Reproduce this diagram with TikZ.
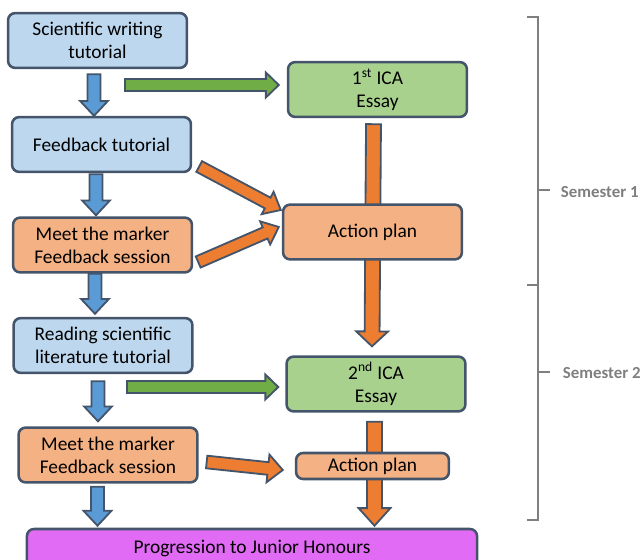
\documentclass[tikz,border=0pt]{standalone}
\usepackage{fontspec}
\setmainfont{Carlito}
\usetikzlibrary{calc}
\pgfdeclarelayer{background}
\pgfsetlayers{background,main}

\definecolor{edge}{HTML}{44546A}
\definecolor{bluebox}{HTML}{BDD7EE}
\definecolor{orangebox}{HTML}{F4B183}
\definecolor{greenbox}{HTML}{A9D18E}
\definecolor{pinkbox}{HTML}{E26BF6}
\definecolor{bluearr}{HTML}{5B9BD5}
\definecolor{greenarr}{HTML}{70AD47}
\definecolor{orangearr}{HTML}{ED7D31}
\definecolor{semgray}{HTML}{7F7F7F}

\tikzset{
  box/.style={draw=edge, line width=1.8pt, rounded corners=5pt, align=center,
    minimum width=4.47cm, minimum height=1.37cm, inner sep=2pt, font=\fontsize{13.8}{16.4}\selectfont},
  semlabel/.style={anchor=west, text=semgray, font=\fontsize{12}{14}\selectfont\bfseries}
}

% block arrow: fill, shaft half width, head half width, head length, from, to
\newcommand{\blockarrow}[6]{%
  \coordinate (ba-s) at (#5);
  \coordinate (ba-e) at (#6);
  \coordinate (ba-n) at ($(ba-e)!#4!(ba-s)$);
  \filldraw[fill=#1, draw=edge, line width=1.3pt, line join=miter]
    ($(ba-s)!#2!90:(ba-e)$) -- ($(ba-n)!#2!90:(ba-e)$) -- ($(ba-n)!#3!90:(ba-e)$)
    -- (ba-e) -- ($(ba-n)!#3!-90:(ba-e)$) -- ($(ba-n)!#2!-90:(ba-e)$)
    -- ($(ba-s)!#2!-90:(ba-e)$) -- cycle;
}

\begin{document}
\begin{tikzpicture}[x=0.025cm, y=-0.025cm]
\useasboundingbox (0,0) rectangle (640,560);
%\draw [help lines, step=20] (0,0) grid (640,560);
\node [box, fill=bluebox] (sci) at (97.5,40.5) {Scientific writing\\tutorial};
\node [box, fill=bluebox] (fb) at (101.5,144.5) {Feedback tutorial};
\node [box, fill=orangebox] (mm1) at (102.5,245) {Meet the marker\\Feedback session};
\node [box, fill=bluebox] (read) at (103,345.5) {Reading scientific\\literature tutorial};
\node [box, fill=orangebox] (mm2) at (108,455) {Meet the marker\\Feedback session};
\node [box, fill=pinkbox, minimum width=11.25cm, minimum height=0.95cm] (prog) at (252,548) {Progression to Junior Honours};
\node [box, fill=greenbox] (ica1) at (377.5,89.5) {1\textsuperscript{st} ICA\\Essay};
\node [box, fill=orangebox] (ap1) at (372.5,232) {Action plan};
\node [box, fill=greenbox] (ica2) at (376,384) {2\textsuperscript{nd} ICA\\Essay};
\node [box, fill=orangebox, minimum width=3.82cm, minimum height=0.65cm, inner sep=1pt] (ap2) at (372.5,466) {Action plan};
\coordinate (g1) at (125,85);
\coordinate (g2) at (127,387);

\begin{pgfonlayer}{background}
\blockarrow{bluearr}{4.6pt}{9.9pt}{10.6pt}{$(sci.south)+(-3.5,5)$}{$(sci.south |- fb.north)+(-3.5,0)$}
\blockarrow{bluearr}{4.6pt}{9.9pt}{10.6pt}{$(fb.south)+(-5.5,1)$}{$(fb.south |- mm1.north)+(-5.5,-1)$}
\blockarrow{bluearr}{4.6pt}{9.9pt}{10.6pt}{$(mm1.south)+(-7.5,0)$}{$(mm1.south |- read.north)+(-7.5,-3)$}
\blockarrow{bluearr}{4.6pt}{9.9pt}{10.6pt}{$(read.south)+(-5,7)$}{$(read.south |- mm2.north)+(-5,-5)$}
\blockarrow{bluearr}{4.6pt}{9.9pt}{10.6pt}{$(mm2.south)+(-10.5,3)$}{$(mm2.south |- prog.north)+(-10.5,-2)$}
\blockarrow{greenarr}{4.3pt}{8.9pt}{9.2pt}{g1}{$(ica1.west |- g1)+(-8,0)$}
\blockarrow{greenarr}{4.3pt}{8.9pt}{9.2pt}{g2}{$(ica2.west |- g2)+(-7,0)$}
\blockarrow{orangearr}{4.3pt}{9pt}{10.6pt}{$(fb.east)+(7,22)$}{$(ap1.west)+(-1,-22)$}
\blockarrow{orangearr}{4.3pt}{9pt}{10.6pt}{$(mm1.east)+(5,17)$}{$(ap1.west)+(-3,-5)$}
\blockarrow{orangearr}{5.3pt}{11.3pt}{10.6pt}{$(ica1.south)+(-4,6)$}{$(ica2.north)+(-4,-9)$}
\blockarrow{orangearr}{4.5pt}{9.9pt}{10.6pt}{$(mm2.east)+(8,7)$}{$(ap2.west)+(-12,4)$}
\blockarrow{orangearr}{5.3pt}{11.3pt}{12.5pt}{$(ica2.south)+(-1.5,9)$}{$(ica2.south |- prog.north)+(-1.5,-2)$}
\end{pgfonlayer}

\draw [semgray, line width=2pt] (527,17) -- (538,17) -- (538,520) -- (527,520);
\draw [semgray, line width=2pt] (527,285) -- (538,285);
\draw [semgray, line width=2pt] (538,190) -- (550,190);
\draw [semgray, line width=2pt] (538,372) -- (550,372);
\node [semlabel] (sem1) at (556,192) {Semester 1};
\node [semlabel] (sem2) at (558,373) {Semester 2};
\end{tikzpicture}
\end{document}
